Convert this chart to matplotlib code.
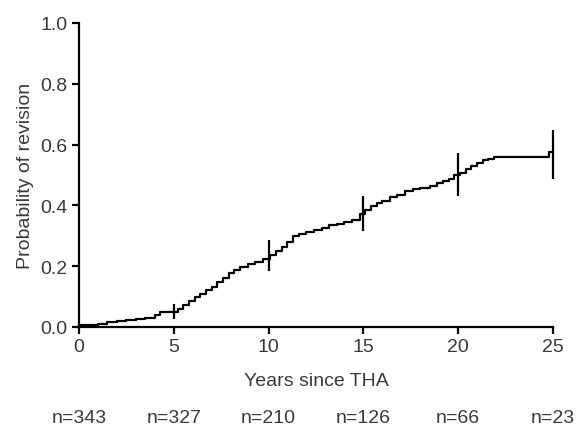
import matplotlib.pyplot as plt

# Kaplan-Meier style cumulative revision curve
years = [0, 0.5, 1.0, 1.5, 2.0, 2.5, 3.0, 3.5, 4.0, 4.3, 5.2, 5.5, 5.8, 6.1,
         6.4, 6.7, 7.0, 7.3, 7.6, 7.9, 8.2, 8.5, 8.9, 9.3, 9.7, 10.1, 10.4,
         10.7, 11.0, 11.3, 11.6, 12.0, 12.4, 12.8, 13.2, 13.6, 14.0, 14.4,
         14.8, 15.1, 15.4, 15.7, 16.0, 16.4, 16.8, 17.2, 17.6, 18.0, 18.5,
         18.9, 19.2, 19.5, 19.8, 20.1, 20.4, 20.7, 21.0, 21.3, 21.6, 21.9,
         24.8, 25.0]
prob = [0.005, 0.007, 0.010, 0.015, 0.020, 0.022, 0.025, 0.030, 0.040, 0.048,
        0.060, 0.072, 0.085, 0.098, 0.108, 0.120, 0.133, 0.147, 0.162, 0.177,
        0.188, 0.197, 0.207, 0.213, 0.225, 0.237, 0.250, 0.264, 0.280, 0.298,
        0.306, 0.312, 0.318, 0.325, 0.336, 0.340, 0.345, 0.352, 0.370, 0.385,
        0.397, 0.408, 0.415, 0.427, 0.435, 0.448, 0.453, 0.456, 0.462, 0.472,
        0.480, 0.488, 0.500, 0.507, 0.518, 0.528, 0.540, 0.548, 0.552, 0.558,
        0.575, 0.575]

# confidence bars at 5-year marks
ci_years = [5, 10, 15, 20, 25]
ci_low = [0.025, 0.185, 0.317, 0.432, 0.487]
ci_high = [0.075, 0.287, 0.432, 0.572, 0.648]

# numbers at risk
risk_years = [0, 5, 10, 15, 20, 25]
at_risk = ["n=343", "n=327", "n=210", "n=126", "n=66", "n=23"]

plt.rcParams["font.family"] = ["Liberation Sans", "DejaVu Sans"]
txt_color = "#3a3a3a"
fs = 14

fig = plt.figure(figsize=(5.76, 4.27), dpi=100)
ax = fig.add_axes([0.137, 0.232, 0.823, 0.712])

ax.step(years, prob, where="post", color="black", lw=1.6, clip_on=False)
ax.vlines(ci_years, ci_low, ci_high, color="black", lw=1.6, clip_on=False)

ax.set_xlim(0, 25)
ax.set_ylim(0, 1.0)
ax.set_xticks([0, 5, 10, 15, 20, 25])
ax.set_yticks([0.0, 0.2, 0.4, 0.6, 0.8, 1.0])
ax.set_yticklabels(["0.0", "0.2", "0.4", "0.6", "0.8", "1.0"])

for side in ["top", "right"]:
    ax.spines[side].set_visible(False)
for side in ["left", "bottom"]:
    ax.spines[side].set_linewidth(1.6)

ax.tick_params(direction="out", length=5, width=1.6, labelsize=fs,
               labelcolor=txt_color, pad=3)

ax.set_xlabel("Years since THA", fontsize=fs, color=txt_color, labelpad=12)
ax.set_ylabel("Probability of revision", fontsize=fs, color=txt_color,
              labelpad=5)

# numbers at risk under the axis
for x, label in zip(risk_years, at_risk):
    ax.annotate(label, xy=(x, 0), xycoords=("data", "axes fraction"),
                xytext=(0, -65), textcoords="offset points",
                ha="center", va="center", fontsize=fs, color=txt_color,
                annotation_clip=False)

fig.savefig("out.png", dpi=100)
